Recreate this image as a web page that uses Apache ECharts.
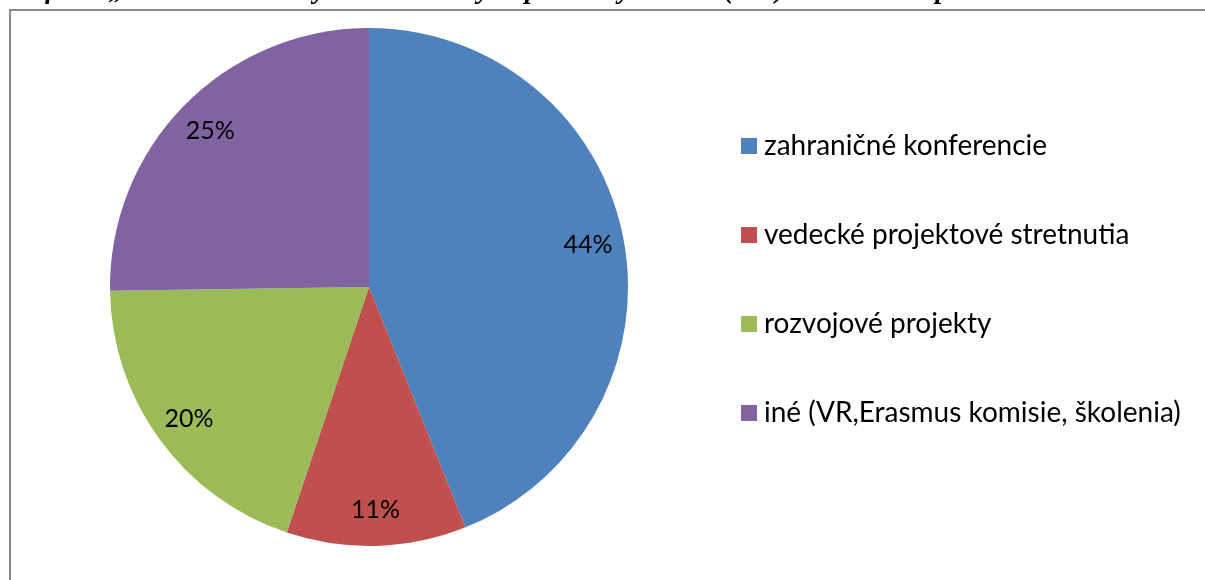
<!DOCTYPE html>
<html>
<head>
<meta charset="utf-8">
<script src="https://cdn.jsdelivr.net/npm/echarts@6/dist/echarts.min.js"></script>
<style>
  html, body { margin: 0; padding: 0; background: #fff; }
  #chart { width: 1205px; height: 580px; }
</style>
</head>
<body>
<div id="chart"></div>
<script>
// trips by purpose, 107 in total
const categories = [
  'zahraničné konferencie',
  'vedecké projektové stretnutia',
  'rozvojové projekty',
  'iné (VR,Erasmus komisie, školenia)'
]
const tripCounts = [47, 12, 21, 27]
const sliceColors = ['#4F81BD', '#C0504D', '#9BBB59', '#8064A2']
const titleText = 'Graf č. 3 „Rozdelenie všetkých zahraničných pracovných ciest (107) v roku 2010 podľa účelu“'

const chart = echarts.init(document.getElementById('chart'))

const pieData = categories.map((name, i) => ({
  name,
  value: tripCounts[i],
  itemStyle: { color: sliceColors[i] }
}))

chart.setOption({
  animation: false,
  graphic: [
    {
      // title is cut off by the top edge, as in the scan
      type: 'text',
      left: 0,
      top: -23,
      style: {
        text: titleText,
        font: 'italic bold 28px "Liberation Serif"',
        fill: '#000'
      }
    },
    {
      type: 'rect',
      shape: { x: 10, y: 10, width: 1400, height: 800 },
      style: { fill: 'none', stroke: '#8c8c8c', lineWidth: 2 }
    }
  ],
  legend: {
    orient: 'vertical',
    left: 741,
    top: 132,
    padding: 0,
    itemWidth: 16,
    itemHeight: 16,
    itemGap: 61,
    icon: 'rect',
    data: categories,
    textStyle: {
      fontFamily: 'Lato',
      fontSize: 28,
      color: '#000',
      padding: [0, 0, 0, 2]
    }
  },
  series: [
    {
      type: 'pie',
      center: [369, 287],
      radius: [0, 259],
      startAngle: 90,
      clockwise: true,
      silent: true,
      label: { show: false },
      labelLine: { show: false },
      data: pieData
    },
    {
      // invisible ring, only used to place the percent labels
      type: 'pie',
      center: [369, 287],
      radius: [181, 259],
      startAngle: 90,
      clockwise: true,
      silent: true,
      itemStyle: { color: 'rgba(0,0,0,0)' },
      label: {
        show: true,
        position: 'inside',
        formatter: p => Math.round(p.percent) + '%',
        fontFamily: 'Lato',
        fontSize: 25,
        color: '#000'
      },
      labelLine: { show: false },
      data: categories.map((name, i) => ({ name, value: tripCounts[i] }))
    }
  ]
})
</script>
</body>
</html>
